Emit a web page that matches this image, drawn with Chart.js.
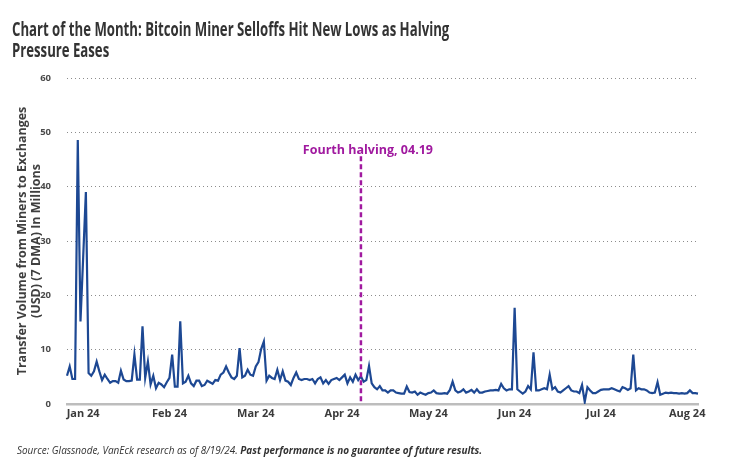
<!DOCTYPE html>
<html>
<head>
<meta charset="utf-8">
<script src="https://cdn.jsdelivr.net/npm/chart.js@4.4.1/dist/chart.umd.min.js"></script>
<style>
  html, body { margin: 0; padding: 0; background: #fff; }
  body { width: 754px; height: 470px; position: relative; overflow: hidden; font-family: "Open Sans", sans-serif; }
  #title { position: absolute; left: 12px; top: 18px; font-size: 19.5px; font-weight: 700; color: #333; line-height: 21px; white-space: nowrap; transform-origin: 0 0; z-index: 2; }
  #note { position: absolute; left: 17px; top: 443px; font-size: 10px; font-style: italic; color: #333; white-space: nowrap; transform-origin: 0 0; z-index: 2; }
  #note b { font-weight: 700; }
  #wrap { position: absolute; left: 0; top: 0; width: 754px; height: 470px; }
</style>
</head>
<body>
<div id="title">Chart of the Month: Bitcoin Miner Selloffs Hit New Lows as Halving<br>Pressure Eases</div>
<div id="wrap"><canvas id="miners"></canvas></div>
<div id="note">Source: Glassnode, VanEck research as of 8/19/24. <b>Past performance is no guarantee of future results.</b></div>
<script>
// daily transfer volume, miners -> exchanges (USD mn, 7DMA), from Jan 1 2024
const volume = [
  5.2, 6.9, 4.6, 4.6, 48.6, 15.2, 27, 39.0, 5.7, 5.2, 6.0, 7.8, 6.0, 4.4, 5.4, 4.6, 3.9, 4.2, 4.2, 3.9,
  6.1, 4.5, 4.2, 4.2, 4.3, 9.1, 4.5, 4.5, 14.3, 4.8, 7.8, 3.6, 5.2, 2.9, 3.9, 3.6, 3.1, 4.0, 4.8, 9.1,
  3.2, 3.2,
  15.2, 3.8, 4.1, 5.2, 3.8, 3.3, 4.3, 4.3, 3.3, 3.5, 4.3, 4.0, 3.7, 4.4, 4.3, 5.4, 5.8, 6.9, 5.8, 4.9,
  4.6, 5.2, 10.3, 4.9, 5.2, 6.3, 5.4, 5.2, 6.9, 7.7, 10.1, 11.5, 4.3, 5.2, 4.8, 4.6, 6.3, 4.4, 6.0, 4.3,
  4.1, 3.5, 4.8, 5.8, 4.6, 4.4, 4.6,
  4.6, 4.4, 4.6, 3.8, 4.6, 4.9, 3.8, 4.4, 3.7, 4.4, 4.6, 4.8, 4.4, 4.9, 5.4, 3.8, 4.9, 4.1, 5.4, 4.4,
  5.1, 4.1, 4.4, 7.0, 3.8, 3.1, 2.7, 3.3, 2.5, 2.5, 2.1, 2.5, 2.5, 2.1, 2.0, 1.9, 1.9, 3.2, 2.2, 2.1,
  2.3, 1.7, 2.1, 1.9, 1.7, 2.0,
  2.1, 2.5, 2.0, 1.9, 1.9, 2.0, 1.9, 2.6, 4.1, 2.5, 2.1, 2.3, 2.7, 2.1, 2.3, 2.6, 2.1, 2.7, 2.1, 2.1,
  2.3, 2.4, 2.5, 2.5, 2.6, 2.5, 3.7, 2.9, 2.5, 2.7, 2.7, 17.7, 2.7, 2.3, 1.9, 2.3, 3.3, 2.7, 9.5, 2.5,
  2.5, 2.7, 2.9, 2.7, 5.4, 2.7, 3.1, 2.3, 2.1, 2.5, 2.9, 3.3,
  2.5, 2.3, 2.3, 2.0, 3.5, 0.4, 3.1, 2.5, 2.0, 2.0, 2.3, 2.6, 2.7, 2.7, 2.7, 2.9, 2.7, 2.5, 2.3, 3.1,
  2.9, 2.6, 2.9, 9.1, 2.5, 2.9, 2.7, 2.7, 2.5, 2.1, 2.0, 2.1, 4.0, 1.7, 1.9, 2.1, 2.0, 2.1, 2.0, 2.0,
  1.9, 2.0, 1.9, 2.0, 2.5, 2.0, 2.0, 1.9
];
const monthTicks = ["Jan 24", "Feb 24", "Mar 24", "Apr 24", "May 24", "Jun 24", "Jul 24", "Aug 24"];
const firstTick = 6, tickEvery = 32;
const halvingDay = "2024-04-19";
const halvingText = "Fourth halving, 04.19";
const yTitle = ["Transfer Volume from Miners to Exchanges", "(USD) (7 DMA) In Millions"];

const days = volume.map((v, i) => {
  const d = new Date(Date.UTC(2024, 0, 1 + i));
  return d.toISOString().slice(0, 10);
});

// squeeze the condensed-looking header / footer to the reference widths
function fit(id, w) {
  const el = document.getElementById(id);
  el.style.transform = "scaleX(" + (w / el.scrollWidth) + ")";
}
fit("title", 437);
fit("note", 465);

const halvingLine = {
  id: "halvingLine",
  afterDatasetsDraw(chart) {
    const x = chart.scales.x.getPixelForValue(days.indexOf(halvingDay));
    const y = chart.scales.y;
    const ctx = chart.ctx;
    ctx.save();
    ctx.strokeStyle = "#a0199f";
    ctx.lineWidth = 2.5;
    ctx.setLineDash([5, 3]);
    ctx.beginPath();
    ctx.moveTo(x, y.getPixelForValue(45.6));
    ctx.lineTo(x, y.getPixelForValue(0));
    ctx.stroke();
    ctx.setLineDash([]);
    ctx.fillStyle = "#a0199f";
    ctx.font = "bold 12.5px 'Open Sans'";
    ctx.textAlign = "center";
    ctx.textBaseline = "alphabetic";
    ctx.fillText(halvingText, x + 7, y.getPixelForValue(46.1));
    ctx.restore();
  }
};

const ctx = document.getElementById("miners").getContext("2d");
new Chart(ctx, {
  type: "line",
  data: {
    labels: days,
    datasets: [{
      data: volume,
      borderColor: "#1d4893",
      borderWidth: 2.2,
      pointRadius: 0,
      tension: 0,
      fill: false
    }]
  },
  options: {
    responsive: true,
    maintainAspectRatio: false,
    animation: false,
    layout: { padding: { left: 16, top: 78, right: 56, bottom: 0 } },
    plugins: { legend: { display: false }, tooltip: { enabled: false } },
    scales: {
      x: {
        grid: { display: false, drawTicks: false },
        border: { display: true, color: "#bdbdbd", width: 2.5 },
        ticks: {
          autoSkip: false,
          maxRotation: 0,
          padding: 3,
          color: "#3a3a3a",
          font: { family: "Open Sans", size: 11, weight: "700" },
          callback: (v, i) => ((i - firstTick) % tickEvery === 0 ? monthTicks[(i - firstTick) / tickEvery] : null)
        },
        afterFit: (s) => { s.height = 66; }
      },
      y: {
        min: 0,
        max: 60,
        grid: {
          drawTicks: false,
          color: (c) => (c.tick.value === 0 ? "rgba(0,0,0,0)" : "#8c8c8c"),
          lineWidth: 1
        },
        border: { display: false, dash: [1, 3] },
        ticks: {
          stepSize: 10,
          padding: 16,
          color: "#4a4a4a",
          font: { family: "Open Sans", size: 9.5, weight: "700" }
        },
        title: {
          display: true,
          text: yTitle,
          color: "#3f3f3f",
          font: { family: "Open Sans", size: 12.5, weight: "700", lineHeight: 1.1 },
          padding: { top: 0, bottom: 0 }
        },
        afterFit: (s) => { s.width = 51; }
      }
    }
  },
  plugins: [halvingLine]
});
</script>
</body>
</html>
